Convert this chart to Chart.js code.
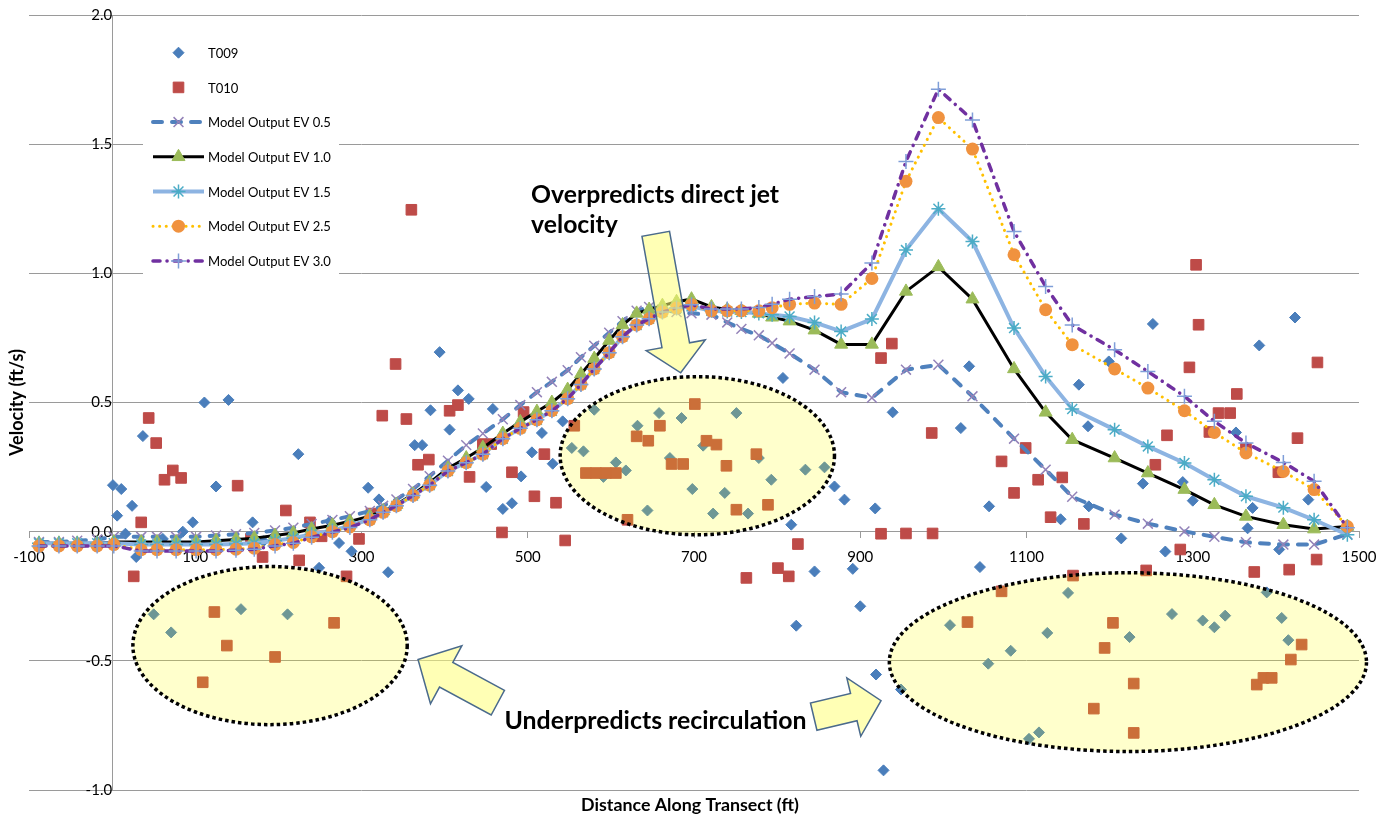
<!DOCTYPE html>
<html>
<head>
<meta charset="utf-8">
<script src="https://cdn.jsdelivr.net/npm/chart.js"></script>
<style>
  html, body { margin: 0; padding: 0; background: #fff; }
  #wrap { width: 1385px; height: 818px; }
</style>
</head>
<body>
<div id="wrap"><canvas id="chart" width="1385" height="818"></canvas></div>
<script>
const FONT = "Lato, 'Noto Sans', sans-serif";

// tick labels
const xTickVals = [-100, 100, 300, 500, 700, 900, 1100, 1300, 1500];
const yTickVals = [-1.0, -0.5, 0.0, 0.5, 1.0, 1.5, 2.0];

// model nodes along the transect (ft)
const modelX = [-88, -64, -42, -18, 2, 35, 54, 77, 101, 125, 149, 171, 196, 218, 240, 265, 286, 310, 326, 342,
  362, 382, 404, 426, 446, 470, 491, 511, 529, 548, 564, 580, 598, 614, 631, 646, 662, 679, 697, 721,
  740, 757, 778, 794, 815, 845, 877, 914, 955, 994, 1035, 1085, 1123, 1155, 1206, 1246, 1290, 1326, 1364, 1409,
  1446, 1486];

const ev05 = [-0.04, -0.04, -0.035, -0.03, -0.02, -0.02, -0.02, -0.02, -0.02, -0.015, -0.01, -0.005, 0.005, 0.015, 0.03, 0.045, 0.06, 0.08, 0.10, 0.125,
  0.165, 0.215, 0.275, 0.335, 0.38, 0.435, 0.49, 0.54, 0.58, 0.625, 0.675, 0.72, 0.77, 0.815, 0.855, 0.87, 0.86, 0.85, 0.845, 0.84,
  0.81, 0.785, 0.76, 0.73, 0.69, 0.627, 0.54, 0.518, 0.627, 0.646, 0.524, 0.36, 0.24, 0.135, 0.066, 0.031, 0.001, -0.02, -0.041, -0.05,
  -0.05, -0.01];

const ev10 = [-0.045, -0.045, -0.045, -0.045, -0.04, -0.04, -0.04, -0.04, -0.04, -0.035, -0.03, -0.025, -0.015, -0.005, 0.01, 0.025, 0.04, 0.06, 0.08, 0.105,
  0.145, 0.19, 0.245, 0.285, 0.325, 0.38, 0.425, 0.465, 0.50, 0.55, 0.61, 0.67, 0.74, 0.80, 0.845, 0.86, 0.875, 0.89, 0.90, 0.87,
  0.86, 0.855, 0.845, 0.83, 0.815, 0.78, 0.725, 0.725, 0.93, 1.025, 0.90, 0.63, 0.462, 0.356, 0.285, 0.227, 0.163, 0.104, 0.059, 0.027,
  0.01, 0.02];

const ev15 = [-0.045, -0.045, -0.045, -0.045, -0.045, -0.05, -0.05, -0.05, -0.05, -0.05, -0.048, -0.045, -0.035, -0.025, -0.01, 0.005, 0.022, 0.048, 0.075, 0.10,
  0.14, 0.18, 0.235, 0.267, 0.30, 0.36, 0.40, 0.433, 0.468, 0.515, 0.57, 0.63, 0.693, 0.755, 0.80, 0.824, 0.85, 0.866, 0.872, 0.855,
  0.852, 0.85, 0.845, 0.84, 0.833, 0.81, 0.775, 0.823, 1.09, 1.25, 1.123, 0.788, 0.601, 0.475, 0.395, 0.33, 0.266, 0.201, 0.137, 0.093,
  0.046, -0.012];

const ev25 = [-0.055, -0.055, -0.055, -0.055, -0.05, -0.07, -0.07, -0.07, -0.07, -0.07, -0.068, -0.064, -0.05, -0.042, -0.02, 0.0, 0.018, 0.046, 0.075, 0.10,
  0.14, 0.18, 0.235, 0.267, 0.30, 0.36, 0.40, 0.433, 0.468, 0.515, 0.57, 0.63, 0.693, 0.755, 0.80, 0.824, 0.85, 0.866, 0.878, 0.855,
  0.855, 0.855, 0.855, 0.867, 0.88, 0.885, 0.88, 0.98, 1.356, 1.603, 1.481, 1.072, 0.859, 0.724, 0.63, 0.556, 0.468, 0.384, 0.305, 0.233,
  0.163, 0.02];

const ev30 = [-0.055, -0.055, -0.055, -0.055, -0.055, -0.075, -0.075, -0.075, -0.075, -0.075, -0.072, -0.068, -0.055, -0.045, -0.022, -0.002, 0.016, 0.046, 0.075, 0.10,
  0.14, 0.18, 0.235, 0.267, 0.30, 0.36, 0.40, 0.433, 0.468, 0.515, 0.57, 0.63, 0.693, 0.755, 0.80, 0.824, 0.85, 0.866, 0.878, 0.862,
  0.862, 0.862, 0.868, 0.88, 0.90, 0.91, 0.92, 1.04, 1.433, 1.713, 1.594, 1.162, 0.949, 0.80, 0.704, 0.62, 0.524, 0.427, 0.343, 0.268,
  0.195, 0.015];

// measured velocities, transect T009
const t009X = [1, 11, 24, 37, 111, 140, 125, 224, 308, 321, 364, 373, 383, 394, 406, 416,
  6, 16, 29, 61, 85, 97, 169, 182, 197, 262, 273, 249, 288, 332,
  50, 71, 155, 211,
  429, 458, 505, 530, 517, 542, 450, 481, 492,
  807, 939, 869, 881, 918,
  580, 632, 658, 685, 751, 553, 567, 606, 618, 591, 671, 711, 778, 834, 857, 793, 698, 737, 644, 723, 765,
  470, 817, 845, 891, 900, 823, 919, 928, 949, 1044,
  1008, 1054, 1081, 1125, 1150, 1103, 1115, 1224, 1275, 1312, 1326, 1339, 1389, 1407, 1415,
  1031, 1021, 1163, 1174, 1199, 1252, 1380, 1423, 1352, 1240, 1288, 1300, 1055, 1372, 1141, 1175, 1214, 1267, 1366, 1404, 1439];
const t009Y = [0.18, 0.165, 0.10, 0.37, 0.50, 0.51, 0.175, 0.30, 0.17, 0.125, 0.335, 0.335, 0.47, 0.695, 0.395, 0.547,
  0.062, -0.008, -0.098, -0.028, 0.0, 0.036, 0.036, -0.037, -0.015, 0.04, -0.044, -0.14, -0.076, -0.157,
  -0.32, -0.39, -0.30, -0.32,
  0.514, 0.475, 0.307, 0.263, 0.382, 0.427, 0.173, 0.11, 0.214,
  0.595, 0.462, 0.175, 0.124, 0.09,
  0.472, 0.41, 0.459, 0.44, 0.459, 0.324, 0.311, 0.268, 0.237, 0.212, 0.285, 0.333, 0.285, 0.24, 0.249, 0.201, 0.165, 0.15, 0.082, 0.07, 0.07,
  0.088, 0.027, -0.154, -0.144, -0.289, -0.364, -0.553, -0.924, -0.611, -0.137,
  -0.362, -0.511, -0.461, -0.392, -0.237, -0.802, -0.777, -0.408, -0.319, -0.344, -0.37, -0.325, -0.235, -0.334, -0.42,
  0.64, 0.401, 0.569, 0.408, 0.659, 0.804, 0.721, 0.829, 0.384, 0.186, 0.192, 0.12, 0.098, 0.092, 0.048, 0.098, -0.026, -0.077, 0.013, -0.069, 0.124];

// measured velocities, transect T010
const t010X = [44, 53, 63, 73, 83, 151, 209, 325, 341, 354, 368, 381, 406, 416,
  35, 26, 167, 181, 225, 238, 252, 282, 297, 312,
  123, 138, 109, 196, 267,
  360, 495, 446, 456, 481, 430, 520, 508, 534, 556, 938, 925,
  701, 659, 631, 645, 715, 727, 775, 673, 687, 739, 570, 582, 594, 606, 751, 789, 620,
  469, 545, 763, 801, 814, 825, 925, 955, 987, 1129, 1169, 1285, 1244, 1374, 1416, 1449, 1156,
  986, 1307, 1296, 1450, 1353, 1331, 1345, 1320, 1269, 1426, 1099, 1070, 1114, 1143, 1085, 1255, 1364, 1403, 1304,
  1029, 1070, 1194, 1204, 1181, 1229, 1229, 1377, 1385, 1395, 1418, 1431];
const t010Y = [0.44, 0.343, 0.201, 0.237, 0.208, 0.178, 0.082, 0.449, 0.649, 0.436, 0.259, 0.279, 0.468, 0.49,
  0.036, -0.173, -0.028, -0.098, -0.111, 0.036, -0.018, -0.173, -0.028, 0.07,
  -0.311, -0.441, -0.583, -0.485, -0.353,
  1.246, 0.463, 0.339, 0.339, 0.23, 0.212, 0.30, 0.137, 0.112, 0.41, 0.728, 0.672,
  0.494, 0.41, 0.369, 0.352, 0.352, 0.337, 0.30, 0.262, 0.262, 0.255, 0.227, 0.227, 0.227, 0.227, 0.085, 0.104, 0.046,
  -0.003, -0.034, -0.179, -0.141, -0.173, -0.048, -0.008, -0.007, -0.007, 0.056, 0.03, -0.069, -0.15, -0.156, -0.147, -0.108, -0.17,
  0.382, 0.801, 0.636, 0.655, 0.533, 0.459, 0.459, 0.386, 0.373, 0.362, 0.324, 0.272, 0.201, 0.21, 0.15, 0.259, 0.321, 0.23, 1.033,
  -0.35, -0.231, -0.45, -0.353, -0.685, -0.588, -0.779, -0.592, -0.566, -0.566, -0.495, -0.437];

// callouts, in data units
const ellipses = [
  { cx: 190, cy: -0.441, rx: 165, ry: 0.306 },
  { cx: 704, cy: 0.294, rx: 165, ry: 0.306 },
  { cx: 1222, cy: -0.505, rx: 287, ry: 0.346 }
];
const arrows = [
  { from: [654, 1.153], to: [684, 0.615], head: 30, len: 28 },
  { from: [464, -0.662], to: [368, -0.495], head: 33, len: 32 },
  { from: [844, -0.716], to: [925, -0.654], head: 30, len: 28 }
];
const notes = [
  { lines: ["Overpredicts direct jet", "velocity"], x: 504, y: 1.273, width: 248 },
  { lines: ["Underpredicts recirculation"], x: 472, y: -0.762, width: 302 }
];

function pts(xs, ys) {
  return xs.map((x, i) => ({ x: x, y: ys[i] }));
}

const datasets = [
  { label: "T009", data: pts(t009X, t009Y), showLine: false, order: 7,
    pointStyle: "rectRot", pointRadius: 5.5, backgroundColor: "#4A7EBB", borderColor: "#4A7EBB", pointBorderWidth: 1 },
  { label: "T010", data: pts(t010X, t010Y), showLine: false, order: 6,
    pointStyle: "rect", pointRadius: 7.5, backgroundColor: "#BE4B48", borderColor: "#BE4B48", pointBorderWidth: 1 },
  { label: "Model Output EV 0.5", data: pts(modelX, ev05), showLine: true, order: 5,
    borderColor: "#4F81BD", borderWidth: 4, borderDash: [9, 10], borderCapStyle: "round",
    pointStyle: "crossRot", pointRadius: 7, pointBorderColor: "#9382B8", pointBackgroundColor: "rgba(0,0,0,0)", pointBorderWidth: 1.5 },
  { label: "Model Output EV 1.0", data: pts(modelX, ev10), showLine: true, order: 4,
    borderColor: "#000000", borderWidth: 3,
    pointStyle: "triangle", pointRadius: 7.5, pointBorderColor: "#9BBB59", pointBackgroundColor: "#9BBB59", pointBorderWidth: 1 },
  { label: "Model Output EV 1.5", data: pts(modelX, ev15), showLine: true, order: 3,
    borderColor: "#8DB4E2", borderWidth: 4,
    pointStyle: "star", pointRadius: 7, pointBorderColor: "#4BACC6", pointBackgroundColor: "rgba(0,0,0,0)", pointBorderWidth: 1.5 },
  { label: "Model Output EV 2.5", data: pts(modelX, ev25), showLine: true, order: 2,
    borderColor: "#FFC000", borderWidth: 3, borderDash: [0.1, 6.5], borderCapStyle: "round",
    pointStyle: "circle", pointRadius: 6.5, pointBorderColor: "#F0923F", pointBackgroundColor: "#F0923F", pointBorderWidth: 0 },
  { label: "Model Output EV 3.0", data: pts(modelX, ev30), showLine: true, order: 1,
    borderColor: "#7030A0", borderWidth: 3.5, borderDash: [7, 7, 0.1, 7], borderCapStyle: "round",
    pointStyle: "cross", pointRadius: 7.5, pointBorderColor: "#7F9ED8", pointBackgroundColor: "rgba(0,0,0,0)", pointBorderWidth: 1.5 }
];

function drawMarker(ctx, style, x, y, r, fill, stroke, lw) {
  ctx.save();
  ctx.fillStyle = fill;
  ctx.strokeStyle = stroke;
  ctx.lineWidth = lw;
  ctx.beginPath();
  const d = r * Math.SQRT1_2;
  let filled = true;
  if (style === "circle") {
    ctx.arc(x, y, r, 0, Math.PI * 2);
  } else if (style === "rect") {
    ctx.rect(x - d, y - d, 2 * d, 2 * d);
  } else if (style === "rectRot") {
    ctx.moveTo(x - r, y); ctx.lineTo(x, y - r); ctx.lineTo(x + r, y); ctx.lineTo(x, y + r); ctx.closePath();
  } else if (style === "triangle") {
    for (let k = 0; k < 3; k++) {
      const a = k * 2 * Math.PI / 3;
      const px = x + Math.sin(a) * r, py = y - Math.cos(a) * r;
      if (k === 0) ctx.moveTo(px, py); else ctx.lineTo(px, py);
    }
    ctx.closePath();
  } else {
    filled = false;
    if (style === "cross" || style === "star") {
      ctx.moveTo(x, y - r); ctx.lineTo(x, y + r);
      ctx.moveTo(x - r, y); ctx.lineTo(x + r, y);
    }
    if (style === "crossRot" || style === "star") {
      ctx.moveTo(x - d, y - d); ctx.lineTo(x + d, y + d);
      ctx.moveTo(x + d, y - d); ctx.lineTo(x - d, y + d);
    }
  }
  if (filled) ctx.fill();
  if (lw > 0) ctx.stroke();
  ctx.restore();
}

function drawArrow(ctx, x1, y1, x2, y2, headHalf, headLen) {
  const shaftHalf = 14;
  const len = Math.hypot(x2 - x1, y2 - y1);
  const ux = (x2 - x1) / len, uy = (y2 - y1) / len;
  const px = -uy, py = ux;
  const bx = x2 - ux * headLen, by = y2 - uy * headLen;
  ctx.beginPath();
  ctx.moveTo(x1 + px * shaftHalf, y1 + py * shaftHalf);
  ctx.lineTo(bx + px * shaftHalf, by + py * shaftHalf);
  ctx.lineTo(bx + px * headHalf, by + py * headHalf);
  ctx.lineTo(x2, y2);
  ctx.lineTo(bx - px * headHalf, by - py * headHalf);
  ctx.lineTo(bx - px * shaftHalf, by - py * shaftHalf);
  ctx.lineTo(x1 - px * shaftHalf, y1 - py * shaftHalf);
  ctx.closePath();
  ctx.fill();
  ctx.stroke();
}

function fitFont(ctx, text, weight, width) {
  ctx.font = weight + " 100px " + FONT;
  return 100 * width / ctx.measureText(text).width;
}

const overlay = {
  id: "overlay",
  afterDatasetsDraw(chart) {
    const ctx = chart.ctx, xs = chart.scales.x, ys = chart.scales.y;
    ctx.save();
    // highlighted regions
    ellipses.forEach(e => {
      const cx = xs.getPixelForValue(e.cx), cy = ys.getPixelForValue(e.cy);
      const rx = Math.abs(xs.getPixelForValue(e.cx + e.rx) - cx);
      const ry = Math.abs(ys.getPixelForValue(e.cy + e.ry) - cy);
      ctx.beginPath();
      ctx.ellipse(cx, cy, rx, ry, 0, 0, Math.PI * 2);
      ctx.fillStyle = "rgba(255,255,0,0.2)";
      ctx.fill();
      ctx.setLineDash([3.5, 3]);
      ctx.lineWidth = 3.5;
      ctx.strokeStyle = "#000";
      ctx.stroke();
      ctx.setLineDash([]);
    });
    // block arrows
    ctx.fillStyle = "rgba(255,255,120,0.55)";
    ctx.strokeStyle = "#4A6A8C";
    ctx.lineWidth = 1.5;
    ctx.lineJoin = "miter";
    arrows.forEach(a => {
      drawArrow(ctx,
        xs.getPixelForValue(a.from[0]), ys.getPixelForValue(a.from[1]),
        xs.getPixelForValue(a.to[0]), ys.getPixelForValue(a.to[1]),
        a.head, a.len);
    });
    // callout text
    ctx.fillStyle = "#000";
    ctx.textAlign = "left";
    ctx.textBaseline = "alphabetic";
    notes.forEach(n => {
      const size = fitFont(ctx, n.lines[0], "bold", n.width);
      ctx.font = "bold " + size.toFixed(2) + "px " + FONT;
      const x = xs.getPixelForValue(n.x), y = ys.getPixelForValue(n.y);
      n.lines.forEach((t, i) => ctx.fillText(t, x, y + i * 30.5));
    });
    ctx.restore();
  },
  afterDraw(chart) {
    const ctx = chart.ctx, area = chart.chartArea;
    ctx.save();
    // legend box
    ctx.fillStyle = "#fff";
    ctx.fillRect(143, 30, 196, 252);
    const lsize = fitFont(ctx, "Model Output EV 0.5", "normal", 123);
    chart.data.datasets.forEach((ds, i) => {
      const y = 52.7 + i * 34.7;
      if (ds.showLine) {
        ctx.save();
        ctx.strokeStyle = ds.borderColor;
        ctx.lineWidth = ds.borderWidth;
        ctx.lineCap = ds.borderCapStyle || "butt";
        ctx.setLineDash(ds.borderDash || []);
        ctx.beginPath();
        ctx.moveTo(153, y);
        ctx.lineTo(204, y);
        ctx.stroke();
        ctx.restore();
        drawMarker(ctx, ds.pointStyle, 178.5, y, ds.pointRadius, ds.pointBackgroundColor, ds.pointBorderColor, ds.pointBorderWidth);
      } else {
        drawMarker(ctx, ds.pointStyle, 178.5, y, ds.pointRadius, ds.backgroundColor, ds.borderColor, ds.pointBorderWidth);
      }
      ctx.fillStyle = "#000";
      ctx.font = lsize.toFixed(2) + "px " + FONT;
      ctx.textAlign = "left";
      ctx.textBaseline = "middle";
      ctx.fillText(ds.label, 208, y + 1);
    });
    // axis titles
    ctx.fillStyle = "#000";
    ctx.textAlign = "center";
    ctx.textBaseline = "middle";
    let s = fitFont(ctx, "Distance Along Transect (ft)", "bold", 218);
    ctx.font = "bold " + s.toFixed(2) + "px " + FONT;
    ctx.fillText("Distance Along Transect (ft)", (area.left + area.right) / 2 - 4, area.bottom + 15);
    s = fitFont(ctx, "Velocity (ft/s)", "bold", 107);
    ctx.font = "bold " + s.toFixed(2) + "px " + FONT;
    ctx.translate(17, (area.top + area.bottom) / 2);
    ctx.rotate(-Math.PI / 2);
    ctx.fillText("Velocity (ft/s)", 0, 0);
    ctx.restore();
  }
};

const GRID = "#9a9a9a";

new Chart(document.getElementById("chart"), {
  type: "scatter",
  data: { datasets: datasets },
  options: {
    responsive: false,
    devicePixelRatio: 1,
    animation: false,
    layout: { padding: { left: 29, right: 26, top: 15, bottom: 28 } },
    elements: { line: { tension: 0 } },
    plugins: {
      legend: { display: false },
      tooltip: { enabled: false },
      title: { display: false }
    },
    scales: {
      x: {
        type: "linear",
        min: -100,
        max: 1500,
        position: { y: 0 },
        afterBuildTicks: scale => { scale.ticks = xTickVals.map(v => ({ value: v })); },
        ticks: {
          callback: v => String(v),
          // tall line box pushes the labels below the axis without adding layout padding
          font: { family: FONT, size: 15, lineHeight: 2.6 },
          color: "#000",
          padding: 0,
          maxRotation: 0,
          autoSkip: false
        },
        grid: { drawOnChartArea: false, drawTicks: true, tickLength: 6, color: GRID },
        border: { display: true, color: GRID, width: 1 }
      },
      y: {
        type: "linear",
        min: -1,
        max: 2,
        position: { x: 0 },
        afterBuildTicks: scale => { scale.ticks = yTickVals.map(v => ({ value: v })); },
        ticks: {
          callback: v => Number(v).toFixed(1),
          font: { family: FONT, size: 15 },
          color: "#000",
          padding: 0
        },
        // invisible tick marks keep the labels clear of the axis line
        grid: { color: GRID, drawTicks: true, tickLength: 24, tickColor: "rgba(0,0,0,0)" },
        border: { display: true, color: GRID, width: 1 }
      }
    }
  },
  plugins: [overlay]
});
</script>
</body>
</html>
